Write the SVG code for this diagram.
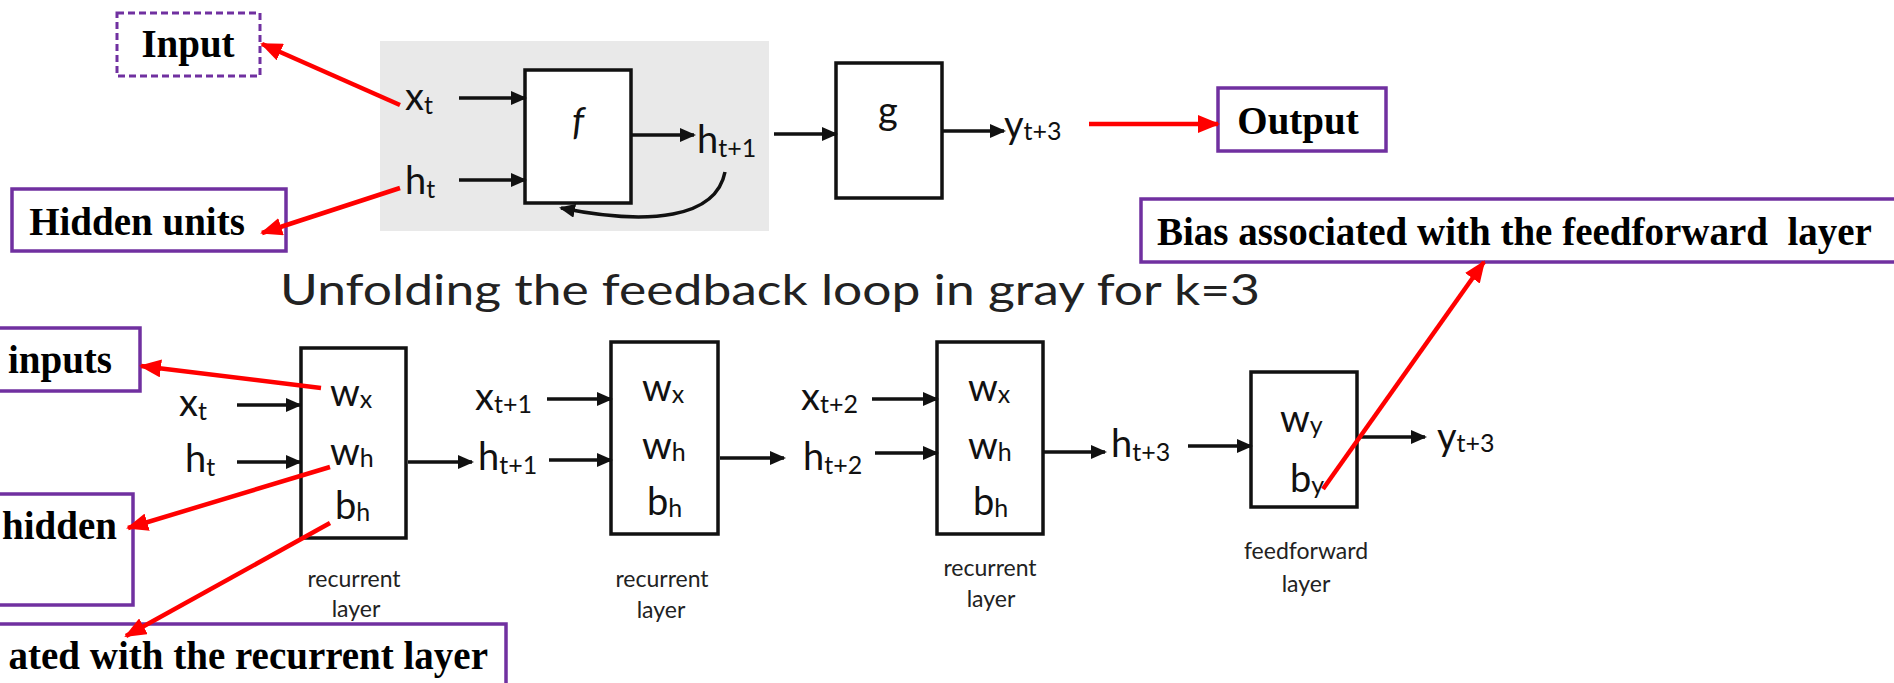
<svg xmlns="http://www.w3.org/2000/svg" width="1894" height="683" viewBox="0 0 1894 683">
<style>
.bg{fill:#ffffff}
.gray{fill:#e9e9e9}
.box{fill:#ffffff;stroke:#111111;stroke-width:3.5}
.pbox{fill:#ffffff;stroke:#7030a0;stroke-width:3.5}
.pdash{fill:#ffffff;stroke:#7030a0;stroke-width:3;stroke-dasharray:7 4}
.lbl{font-family:"Liberation Serif","Times New Roman",serif;font-weight:bold;font-size:39px;fill:#000000}
.hw{font-family:Lato,"Liberation Sans",sans-serif;font-size:38px;fill:#111111}
.sub{font-size:25px}
.small{font-family:Lato,"Liberation Sans",sans-serif;font-size:23px;fill:#222222}
.title{font-family:Lato,"Liberation Sans",sans-serif;font-size:42px;fill:#222222}
.blk{fill:none;stroke:#111111;stroke-width:3.5;marker-end:url(#ab)}
.red{fill:none;stroke:#ff0000;stroke-width:4.5;marker-end:url(#ar)}
</style>
<defs>
<marker id="ab" markerUnits="userSpaceOnUse" markerWidth="16" markerHeight="14" refX="14" refY="7" orient="auto">
<path d="M0,0 L16,7 L0,14 z" fill="#111111"/>
</marker>
<marker id="ar" markerUnits="userSpaceOnUse" markerWidth="22" markerHeight="18" refX="20" refY="9" orient="auto">
<path d="M0,0 L22,9 L0,18 z" fill="#ff0000"/>
</marker>
</defs>
<rect class="bg" x="0" y="0" width="1894" height="683"/>
<rect class="gray" x="380" y="41" width="389" height="190"/>

<g id="input-label">
<rect class="pdash" x="117" y="13" width="143" height="63"/>
<text class="lbl" x="188" y="57" text-anchor="middle">Input</text>
</g>
<g id="hidden-units-label">
<rect class="pbox" x="12" y="189" width="274" height="62"/>
<text class="lbl" x="137" y="235" text-anchor="middle">Hidden units</text>
</g>
<g id="output-label">
<rect class="pbox" x="1218" y="88" width="168" height="63"/>
<text class="lbl" x="1298" y="134" text-anchor="middle">Output</text>
</g>
<g id="bias-ff-label">
<rect class="pbox" x="1141" y="199" width="760" height="63"/>
<text class="lbl" x="1157" y="245" xml:space="preserve">Bias associated with the feedforward  layer</text>
</g>
<g id="inputs-label">
<rect class="pbox" x="-10" y="328" width="150" height="63"/>
<text class="lbl" x="112" y="373" text-anchor="end">inputs</text>
</g>
<g id="hidden-label">
<rect class="pbox" x="-10" y="494" width="143" height="111"/>
<text class="lbl" x="2" y="539">hidden</text>
</g>
<g id="bias-rec-label">
<rect class="pbox" x="-10" y="624" width="516" height="80"/>
<text class="lbl" x="488" y="669" text-anchor="end">ated with the recurrent layer</text>
</g>

<g id="f-node">
<rect class="box" x="525" y="70" width="106" height="133"/>
<text class="hw" x="578" y="135" text-anchor="middle" font-style="italic">f</text>
</g>
<g id="g-node">
<rect class="box" x="836" y="63" width="106" height="135"/>
<text class="hw" x="888" y="124" text-anchor="middle">g</text>
</g>
<g id="top-vars">
<text class="hw" x="405" y="110">x<tspan class="sub" dy="4">t</tspan></text>
<text class="hw" x="405" y="194">h<tspan class="sub" dy="4">t</tspan></text>
<text class="hw" x="697" y="153">h<tspan class="sub" dy="4">t+1</tspan></text>
<text class="hw" x="1004" y="138">y<tspan class="sub" dy="2">t+3</tspan></text>
</g>

<text class="title" x="280" y="305" textLength="980" lengthAdjust="spacingAndGlyphs">Unfolding the feedback loop in gray for k=3</text>

<g id="rec-layer-1">
<rect class="box" x="301" y="348" width="105" height="190"/>
<text class="hw" x="330" y="406">w<tspan class="sub" dy="2">x</tspan></text>
<text class="hw" x="330" y="465">w<tspan class="sub" dy="2">h</tspan></text>
<text class="hw" x="335" y="519">b<tspan class="sub" dy="2">h</tspan></text>
<text class="small" x="354" y="587" text-anchor="middle">recurrent</text>
<text class="small" x="356" y="617" text-anchor="middle">layer</text>
</g>
<g id="rec-layer-2">
<rect class="box" x="611" y="342" width="107" height="192"/>
<text class="hw" x="642" y="401">w<tspan class="sub" dy="2">x</tspan></text>
<text class="hw" x="642" y="459">w<tspan class="sub" dy="2">h</tspan></text>
<text class="hw" x="647" y="515">b<tspan class="sub" dy="2">h</tspan></text>
<text class="small" x="662" y="587" text-anchor="middle">recurrent</text>
<text class="small" x="661" y="618" text-anchor="middle">layer</text>
</g>
<g id="rec-layer-3">
<rect class="box" x="937" y="342" width="106" height="192"/>
<text class="hw" x="968" y="401">w<tspan class="sub" dy="2">x</tspan></text>
<text class="hw" x="968" y="459">w<tspan class="sub" dy="2">h</tspan></text>
<text class="hw" x="973" y="515">b<tspan class="sub" dy="2">h</tspan></text>
<text class="small" x="990" y="576" text-anchor="middle">recurrent</text>
<text class="small" x="991" y="607" text-anchor="middle">layer</text>
</g>
<g id="ff-layer">
<rect class="box" x="1251" y="372" width="106" height="135"/>
<text class="hw" x="1280" y="432">w<tspan class="sub" dy="2">y</tspan></text>
<text class="hw" x="1290" y="492">b<tspan class="sub" dy="2">y</tspan></text>
<text class="small" x="1306" y="559" text-anchor="middle">feedforward</text>
<text class="small" x="1306" y="592" text-anchor="middle">layer</text>
</g>
<g id="bottom-vars">
<text class="hw" x="179" y="416">x<tspan class="sub" dy="4">t</tspan></text>
<text class="hw" x="185" y="472">h<tspan class="sub" dy="4">t</tspan></text>
<text class="hw" x="475" y="410">x<tspan class="sub" dy="3">t+1</tspan></text>
<text class="hw" x="478" y="470">h<tspan class="sub" dy="4">t+1</tspan></text>
<text class="hw" x="801" y="410">x<tspan class="sub" dy="3">t+2</tspan></text>
<text class="hw" x="803" y="470">h<tspan class="sub" dy="4">t+2</tspan></text>
<text class="hw" x="1111" y="457">h<tspan class="sub" dy="4">t+3</tspan></text>
<text class="hw" x="1437" y="450">y<tspan class="sub" dy="2">t+3</tspan></text>
</g>

<g id="connectors">
<path class="blk" d="M459,98 L525,98"/>
<path class="blk" d="M459,180 L525,180"/>
<path class="blk" d="M631,135 L694,135"/>
<path class="blk" d="M774,134 L836,134"/>
<path class="blk" d="M942,131 L1004,131"/>
<path class="blk" d="M725,172 C716,218 650,226 561,208"/>
<path class="blk" d="M237,405 L300,405"/>
<path class="blk" d="M237,462 L300,462"/>
<path class="blk" d="M408,462 L472,462"/>
<path class="blk" d="M547,399 L611,399"/>
<path class="blk" d="M549,460 L611,460"/>
<path class="blk" d="M720,458 L784,458"/>
<path class="blk" d="M872,399 L937,399"/>
<path class="blk" d="M875,453 L937,453"/>
<path class="blk" d="M1043,452 L1105,452"/>
<path class="blk" d="M1188,446 L1251,446"/>
<path class="blk" d="M1359,437 L1425,437"/>
<path class="red" d="M400,105 L262,44"/>
<path class="red" d="M400,188 L262,233"/>
<path class="red" d="M1089,124 L1218,124"/>
<path class="red" d="M1323,489 L1484,262"/>
<path class="red" d="M321,388 L141,366"/>
<path class="red" d="M330,467 L128,528"/>
<path class="red" d="M330,523 L126,636"/>
</g>
</svg>
